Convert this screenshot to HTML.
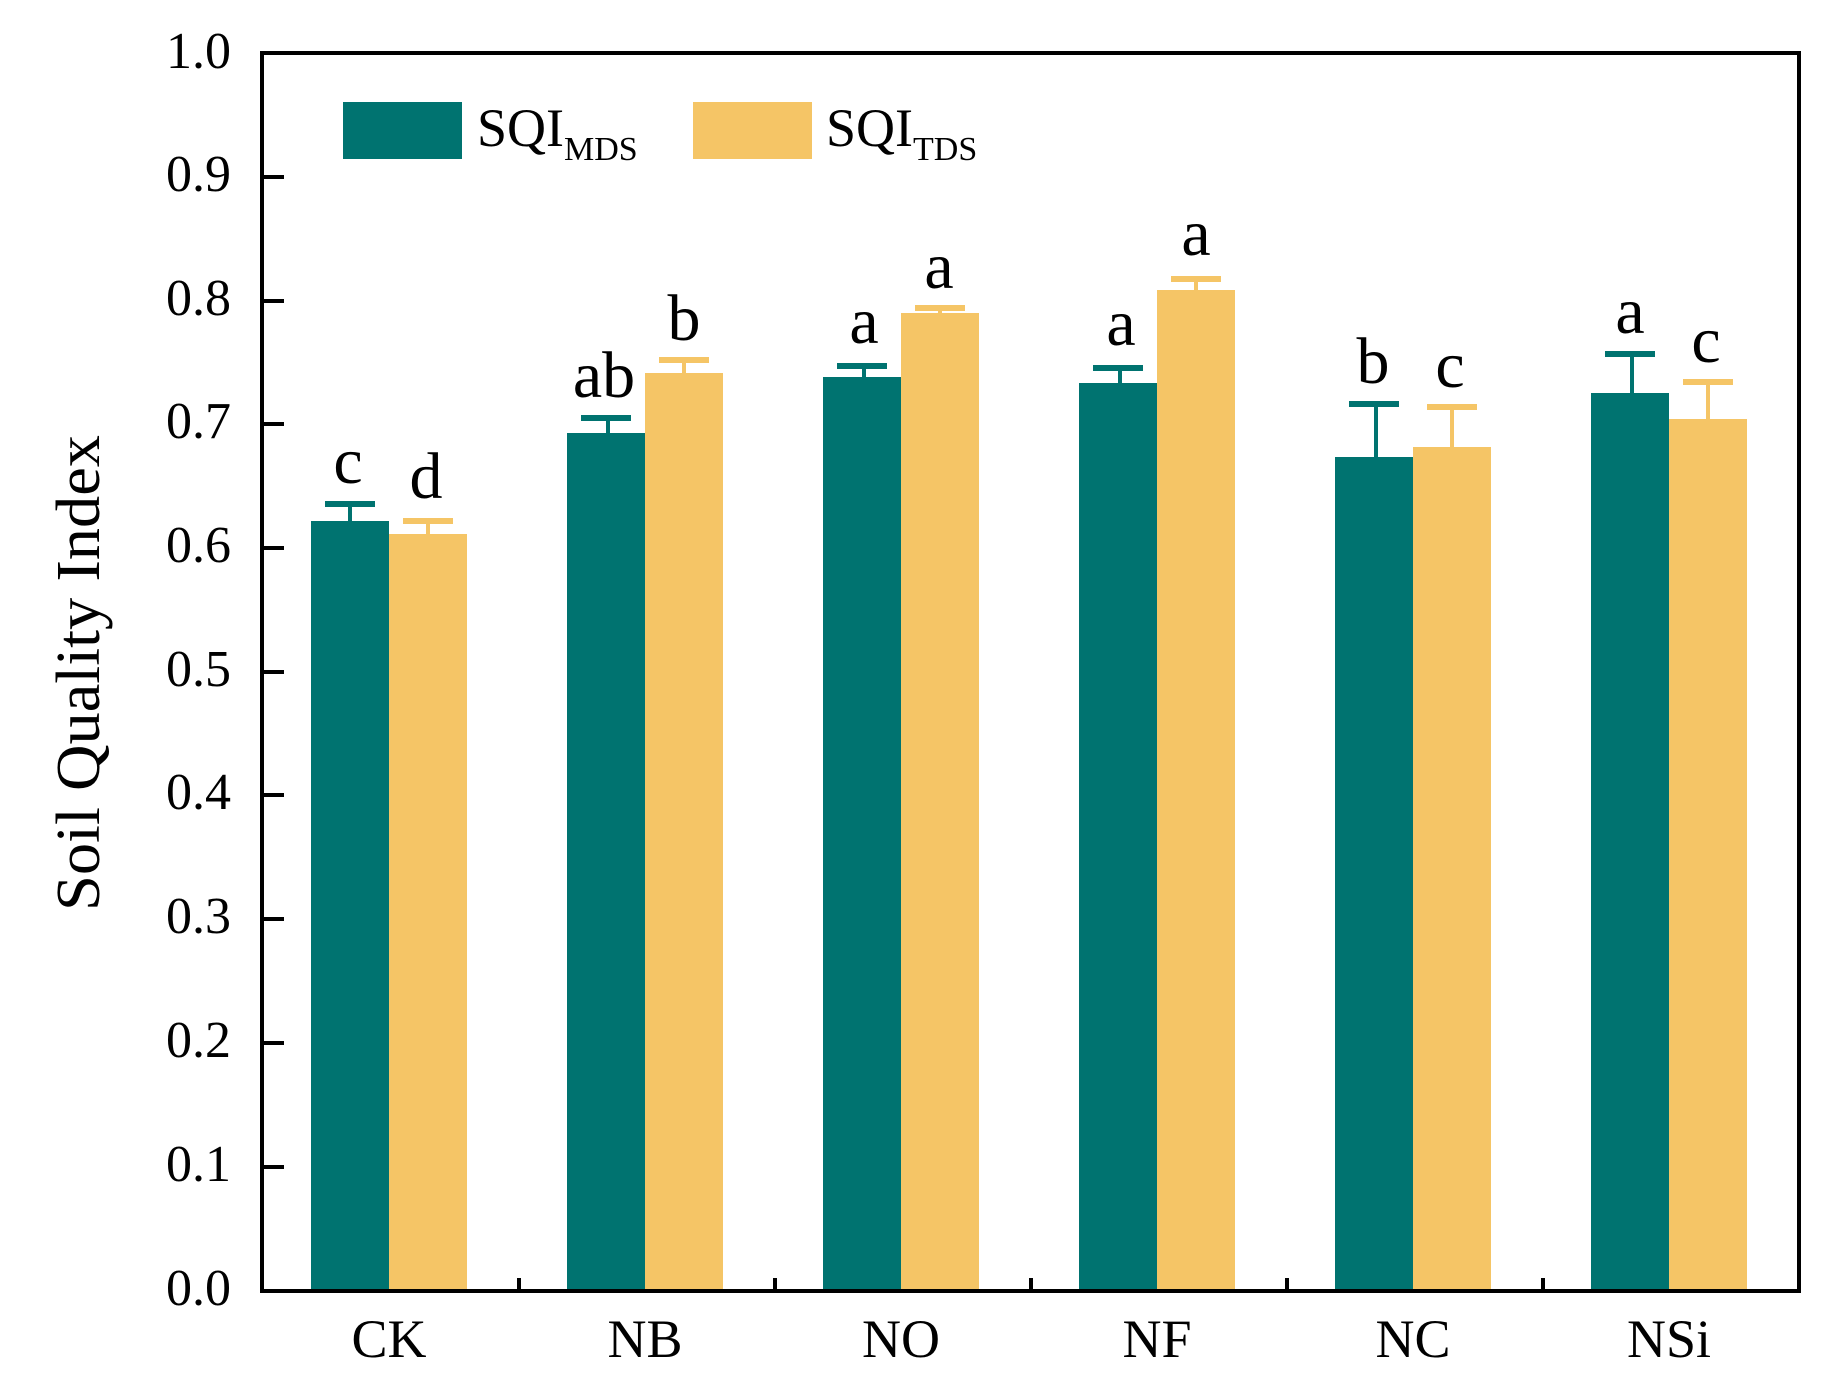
<!DOCTYPE html>
<html><head><meta charset="utf-8"><style>html,body{margin:0;padding:0;background:#fff}svg{display:block}</style></head><body>
<svg width="1822" height="1400" viewBox="0 0 1822 1400" xmlns="http://www.w3.org/2000/svg" font-family="Liberation Serif, serif">
<g fill="#007370">
<rect x="311" y="521" width="78" height="770"/>
<rect x="567" y="433" width="78" height="858"/>
<rect x="823" y="377" width="78" height="914"/>
<rect x="1079" y="383" width="78" height="908"/>
<rect x="1335" y="457" width="78" height="834"/>
<rect x="1591" y="393" width="78" height="898"/>
</g>
<g fill="#F5C566">
<rect x="389" y="534" width="78" height="757"/>
<rect x="645" y="373" width="78" height="918"/>
<rect x="901" y="313" width="78" height="978"/>
<rect x="1157" y="290" width="78" height="1001"/>
<rect x="1413" y="447" width="78" height="844"/>
<rect x="1669" y="419" width="78" height="872"/>
</g>
<g stroke="#007370" stroke-width="4" fill="none">
<path d="M350 521V504M608 433V418M864 377V366M1120 383V368M1376 457V404M1632 393V354"/>
</g>
<g stroke="#007370" stroke-width="6" fill="none">
<path d="M325 504H375M581 418H631M837 366H887M1093 368H1143M1349 404H1399M1605 354H1655"/>
</g>
<g stroke="#F5C566" stroke-width="4" fill="none">
<path d="M428 534V521M684 373V360M940 313V308M1196 290V279M1452 447V407M1708 419V382"/>
</g>
<g stroke="#F5C566" stroke-width="6" fill="none">
<path d="M403 521H453M659 360H709M915 308H965M1171 279H1221M1427 407H1477M1683 382H1733"/>
</g>
<g font-size="66" text-anchor="middle" fill="#000">
<text x="348" y="483">c</text><text x="426" y="498">d</text>
<text x="604" y="397">ab</text><text x="684" y="340">b</text>
<text x="864" y="343">a</text><text x="939" y="288">a</text>
<text x="1121" y="345">a</text><text x="1196" y="255">a</text>
<text x="1373" y="383">b</text><text x="1450" y="387">c</text>
<text x="1630" y="333">a</text><text x="1706" y="362">c</text>
</g>
<g stroke="#000" stroke-width="4" fill="none">
<path d="M262 53H1799V1291H262Z"/>
<path d="M262 177H284M262 301H284M262 424H284M262 548H284M262 672H284M262 795H284M262 919H284M262 1043H284M262 1167H284"/>
<path d="M519 1291V1278M775 1291V1278M1031 1291V1278M1287 1291V1278M1543 1291V1278"/>
</g>
<g font-size="52" text-anchor="end" fill="#000">
<text x="231" y="68">1.0</text><text x="231" y="191">0.9</text><text x="231" y="315">0.8</text><text x="231" y="438">0.7</text><text x="231" y="562">0.6</text><text x="231" y="686">0.5</text><text x="231" y="809">0.4</text><text x="231" y="933">0.3</text><text x="231" y="1057">0.2</text><text x="231" y="1181">0.1</text><text x="231" y="1305">0.0</text>
</g>
<g font-size="54" text-anchor="middle" fill="#000">
<text x="389" y="1357">CK</text><text x="645" y="1357">NB</text><text x="901" y="1357">NO</text><text x="1157" y="1357">NF</text><text x="1413" y="1357">NC</text><text x="1669" y="1357">NSi</text>
</g>
<text transform="translate(99,673) rotate(-90)" font-size="62" text-anchor="middle" textLength="476" lengthAdjust="spacingAndGlyphs">Soil Quality Index</text>
<rect x="343" y="102" width="119" height="57" fill="#007370"/>
<rect x="693" y="102" width="119" height="57" fill="#F5C566"/>
<text x="477" y="146" font-size="54">SQI<tspan font-size="34" dy="14">MDS</tspan></text>
<text x="826" y="146" font-size="54">SQI<tspan font-size="34" dy="14">TDS</tspan></text>
</svg>
</body></html>
